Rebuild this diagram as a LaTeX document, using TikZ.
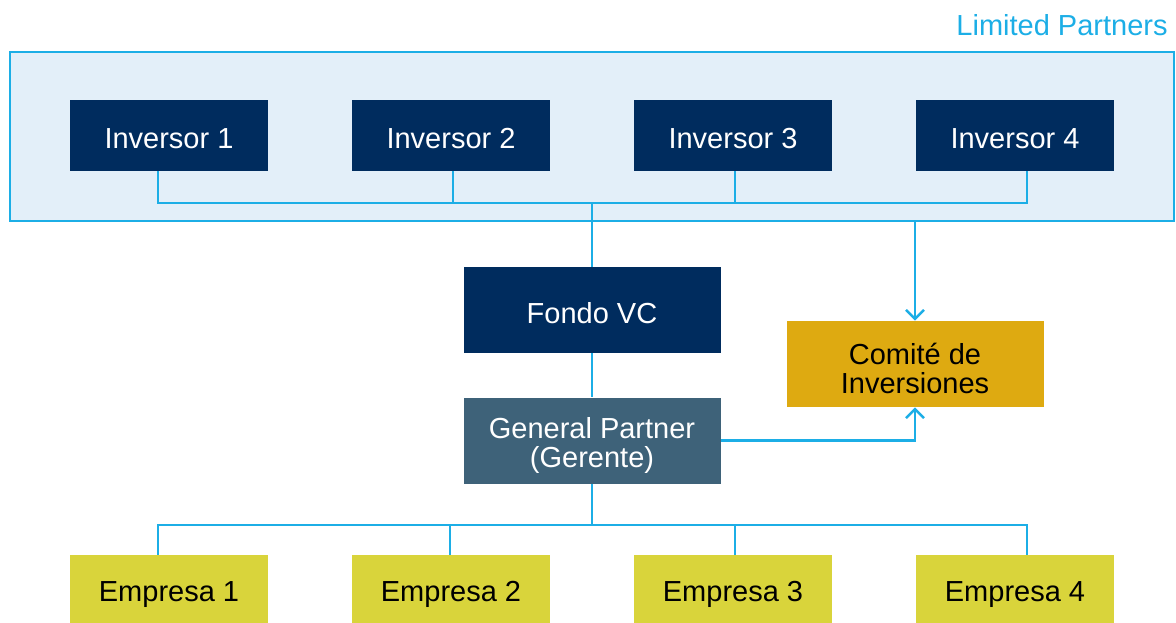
\documentclass[tikz,border=0pt]{standalone}
\usepackage{fontspec}
\setmainfont{Liberation Sans}
\usetikzlibrary{arrows.meta}
\definecolor{navy}{HTML}{002C5E}
\definecolor{slate}{HTML}{3E6279}
\definecolor{gold}{HTML}{DEAA11}
\definecolor{lime}{HTML}{D9D43B}
\definecolor{cyanline}{HTML}{1CAEE6}
\definecolor{paleblue}{HTML}{E3EFF9}
\newcommand{\lowstrut}[1][13.6pt]{\rule{0pt}{#1}}

\begin{document}
\begin{tikzpicture}[x=0.5pt,y=-0.5pt,
    font=\fontsize{14.5}{14.5}\selectfont,
    box/.style={minimum width=99pt,minimum height=35.5pt,inner sep=0pt,align=center},
    solo/.style={box,execute at begin node=\lowstrut},
    inv/.style={solo,fill=navy,text=white},
    emp/.style={solo,fill=lime,text=black},
    mid/.style={minimum width=128.5pt,minimum height=43pt},
    link/.style={draw=cyanline,line width=1.2pt},
    tip/.style={link,-{Straight Barb[length=4.5pt,width=9pt]}}]
    \useasboundingbox (0,0) rectangle (1176,622);
    \node[draw=cyanline,line width=1.2pt,fill=paleblue,minimum width=582pt,minimum height=84.5pt,inner sep=0pt] (lp) at (592, 136.5) {};
    \node[anchor=east,text=cyanline,inner sep=0pt] (lpt) at (1168, 25) {Limited Partners};
    \node[inv] (i1) at (169, 135.5) {Inversor 1};
    \node[inv] (i2) at (451, 135.5) {Inversor 2};
    \node[inv] (i3) at (733, 135.5) {Inversor 3};
    \node[inv] (i4) at (1015, 135.5) {Inversor 4};
    \node[solo,mid,fill=navy,text=white] (fondo) at (592, 310) {Fondo VC};
    \node[box,mid,fill=gold,text=black] (comite) at (915, 364) {\lowstrut[14.8pt]Comit\'e de\\Inversiones};
    \node[box,mid,fill=slate,text=white] (gp) at (592, 440.5) {\lowstrut[15.6pt]General Partner\\(Gerente)};
    \node[emp] (e1) at (169, 590.5) {Empresa 1};
    \node[emp] (e2) at (451, 590.5) {Empresa 2};
    \node[emp] (e3) at (733, 590.5) {Empresa 3};
    \node[emp] (e4) at (1015, 590.5) {Empresa 4};
    \coordinate (t1) at (158, 203);
    \coordinate (t2) at (453, 203);
    \coordinate (t3) at (735, 203);
    \coordinate (t4) at (1027, 203);
    \coordinate (b1) at (158, 525);
    \coordinate (b2) at (450, 525);
    \coordinate (b3) at (735, 525);
    \coordinate (b4) at (1027, 525);
    \draw[link] (i1.south -| t1) -- (t1) -- (t4) -- (i4.south -| t4);
    \draw[link] (i2.south -| t2) -- (t2);
    \draw[link] (i3.south -| t3) -- (t3);
    \draw[link] (fondo.north |- t1) -- (fondo.north);
    \draw[tip] (lp.south -| comite.north) -- (comite.north);
    \draw[link] (fondo) -- (gp);
    \draw[tip] (gp.east) -- (gp.east -| comite.south) -- (comite.south);
    \draw[link] (gp.south) -- (gp.south |- b1);
    \draw[link] (e1.north -| b1) -- (b1) -- (b4) -- (e4.north -| b4);
    \draw[link] (e2.north -| b2) -- (b2);
    \draw[link] (e3.north -| b3) -- (b3);
  \end{tikzpicture}
\end{document}
